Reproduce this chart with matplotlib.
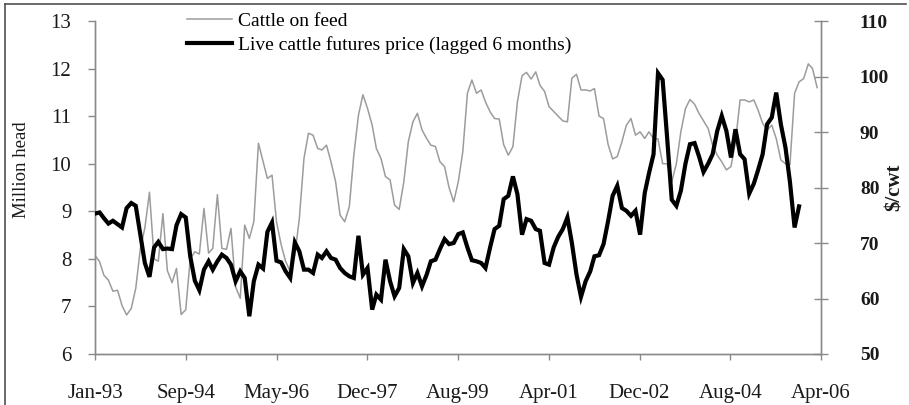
import matplotlib
matplotlib.use("Agg")
import matplotlib.pyplot as plt
import pandas as pd
from matplotlib.lines import Line2D

# ---------------- data ----------------
months = pd.date_range("1993-01-01", periods=160, freq="MS")

cattle_on_feed = [
    8.07, 7.94, 7.66, 7.55, 7.32, 7.34, 7.02, 6.82, 6.96, 7.38,
    8.22, 8.65, 9.40, 8.00, 7.95, 8.95, 7.75, 7.50, 7.80, 6.83,
    6.93, 8.00, 8.15, 8.10, 9.06, 8.12, 8.22, 9.35, 8.22, 8.20,
    8.64, 7.41, 7.17, 8.71, 8.43, 8.78, 10.43, 10.05, 9.69, 9.76,
    8.78, 8.30, 7.95, 7.73, 8.08, 8.85, 10.11, 10.64, 10.60, 10.32,
    10.29, 10.39, 10.04, 9.62, 8.92, 8.78, 9.10, 10.18, 11.02, 11.45,
    11.16, 10.81, 10.32, 10.11, 9.73, 9.66, 9.13, 9.04, 9.62, 10.46,
    10.88, 11.06, 10.71, 10.53, 10.39, 10.36, 10.04, 9.94, 9.50, 9.20,
    9.62, 10.25, 11.48, 11.76, 11.48, 11.55, 11.30, 11.09, 10.95, 10.94,
    10.40, 10.18, 10.36, 11.30, 11.85, 11.92, 11.78, 11.93, 11.65, 11.52,
    11.20, 11.10, 11.00, 10.90, 10.88, 11.80, 11.88, 11.55, 11.55, 11.53,
    11.58, 11.00, 10.95, 10.40, 10.10, 10.15, 10.46, 10.81, 10.95, 10.60,
    10.67, 10.53, 10.67, 10.53, 10.52, 10.00, 10.00, 9.62, 10.00, 10.67,
    11.16, 11.35, 11.25, 11.05, 10.90, 10.74, 10.39, 10.18, 10.04, 9.87,
    9.94, 10.46, 11.34, 11.34, 11.30, 11.34, 11.13, 10.85, 10.71, 10.81,
    10.53, 10.08, 10.00, 9.98, 11.48, 11.72, 11.79, 12.10, 12.00, 11.60,
]

futures_price = [
    75.3, 75.5, 74.5, 73.5, 74.0, 73.4, 72.8, 76.3, 77.2, 76.7,
    71.5, 66.4, 63.9, 69.2, 70.2, 68.9, 69.0, 68.9, 73.2, 75.2,
    74.6, 67.6, 63.2, 61.5, 65.2, 66.7, 65.2, 66.7, 67.9, 67.3,
    66.1, 63.1, 64.9, 63.7, 56.8, 63.1, 66.1, 65.4, 72.0, 73.7,
    66.8, 66.5, 64.9, 63.7, 70.1, 68.5, 65.2, 65.2, 64.6, 67.9,
    67.3, 68.5, 67.3, 67.0, 65.5, 64.6, 64.0, 63.7, 71.3, 64.3,
    65.5, 58.0, 60.7, 59.8, 67.0, 63.1, 60.4, 61.9, 68.9, 67.6,
    62.8, 64.6, 62.2, 64.3, 66.7, 67.0, 68.9, 70.7, 69.8, 70.0,
    71.6, 71.9, 69.2, 66.9, 66.7, 66.4, 65.5, 69.2, 72.5, 73.1,
    77.9, 78.5, 82.0, 78.8, 71.5, 74.3, 74.0, 72.5, 72.2, 66.4,
    66.1, 69.2, 71.1, 72.5, 74.6, 70.0, 64.3, 60.3, 63.1, 64.9,
    67.6, 67.8, 69.8, 74.0, 78.5, 80.3, 76.3, 75.8, 74.9, 75.8,
    71.5, 79.0, 82.5, 86.0, 100.6, 99.4, 89.0, 77.8, 76.7, 79.4,
    84.3, 87.8, 88.0, 85.5, 82.8, 84.3, 86.0, 90.2, 92.9, 90.2,
    85.4, 90.5, 86.0, 85.1, 78.9, 80.7, 83.1, 86.0, 91.4, 92.6,
    97.1, 91.4, 87.2, 81.0, 72.8, 76.6,
]

tick_labels = ["Jan-93", "Sep-94", "May-96", "Dec-97", "Aug-99",
               "Apr-01", "Dec-02", "Aug-04", "Apr-06"]
left_ticks = [6, 7, 8, 9, 10, 11, 12, 13]
right_ticks = [50, 60, 70, 80, 90, 100, 110]

# ---------------- figure ----------------
plt.rcParams["font.family"] = ["Liberation Serif", "DejaVu Serif"]
W, H = 909, 405
fig = plt.figure(figsize=(W / 100, H / 100), dpi=100)
ax = fig.add_axes([95 / W, 51 / H, 726 / W, 333 / H])
ax2 = ax.twinx()

start = pd.Timestamp("1993-01-01")
tick_dates = [start + pd.Timedelta(days=608 * k) for k in range(len(tick_labels))]

gray = "#9c9c9c"
spine_c = "#8a8a8a"
text_c = "#1a1a1a"

ax.plot(months, cattle_on_feed, color=gray, lw=1.1, zorder=2)
ax2.plot(months[:len(futures_price)], futures_price, color="black", lw=3.0,
         solid_joinstyle="miter", zorder=3)

ax.set_xlim(tick_dates[0], tick_dates[-1])
ax.set_ylim(6, 13)
ax2.set_ylim(50, 110)

ax.set_xticks(tick_dates)
ax.set_xticklabels(tick_labels, fontsize=15)
ax.set_yticks(left_ticks)
ax.set_yticklabels([str(v) for v in left_ticks], fontsize=15)
ax2.set_yticks(right_ticks)
ax2.set_yticklabels([str(v) for v in right_ticks], fontsize=14, fontweight="bold")

for a in (ax, ax2):
    a.spines["top"].set_visible(False)
    for s in ("left", "right", "bottom"):
        a.spines[s].set_color(spine_c)
        a.spines[s].set_linewidth(1.0)

ax.tick_params(axis="y", direction="out", length=5, width=1, color=spine_c,
               pad=12, labelcolor=text_c)
ax.tick_params(axis="x", direction="out", length=4.5, width=1, color=spine_c,
               pad=17, labelcolor=text_c)
ax2.tick_params(axis="y", direction="inout", length=10, width=1, color=spine_c,
                pad=23, labelcolor=text_c)

fig.text(22 / W, 1 - 170 / H, "Million head", rotation=90, ha="center",
         va="center", fontsize=13.5, color=text_c)
fig.text(895 / W, 1 - 187 / H, "$/cwt", rotation=90, ha="center",
         va="center", fontsize=15, fontweight="bold", color=text_c)

handles = [Line2D([], [], color=gray, lw=1.1),
           Line2D([], [], color="black", lw=3.0)]
ax2.legend(handles, ["Cattle on feed", "Live cattle futures price (lagged 6 months)"],
           loc="upper left", bbox_to_anchor=(187 / W, 1 - 12 / H),
           bbox_transform=fig.transFigure, frameon=False, fontsize=14,
           handlelength=2.3, handletextpad=0.3, labelspacing=0.32,
           borderpad=0, borderaxespad=0)

# outer frame (left and top edges)
fig.add_artist(Line2D([5 / W, 5 / W], [0, 1 - 4 / H], transform=fig.transFigure,
                      color="#505050", lw=1.2))
fig.add_artist(Line2D([5 / W, 906 / W], [1 - 4 / H, 1 - 4 / H],
                      transform=fig.transFigure, color="#505050", lw=1.2))

fig.savefig("out.png", dpi=100)
